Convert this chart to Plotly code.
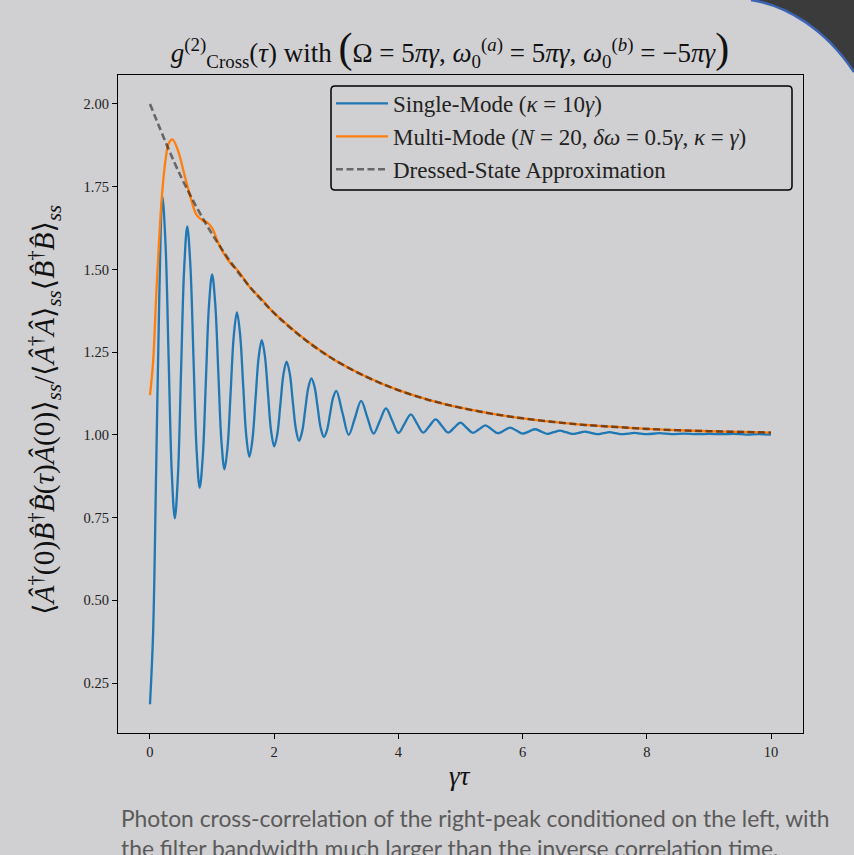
import plotly.graph_objects as go

# ---------------- data ----------------
single_x = [0.00, 0.05, 0.10, 0.15, 0.20, 0.25, 0.30, 0.35, 0.40, 0.45, 0.50, 0.55, 0.60,
            0.65, 0.70, 0.75, 0.80, 0.85, 0.90, 0.95, 1.00, 1.05, 1.10, 1.15, 1.20,
            1.25, 1.30, 1.35, 1.40, 1.45, 1.50, 1.55, 1.60, 1.65, 1.70, 1.75, 1.80,
            1.85, 1.90, 1.95, 2.00, 2.05, 2.10, 2.15, 2.20, 2.25, 2.30, 2.35, 2.40,
            2.45, 2.50, 2.55, 2.60, 2.65, 2.70, 2.75, 2.80, 2.85, 2.90, 2.95, 3.00,
            3.1, 3.2, 3.3, 3.4, 3.5, 3.6, 3.7, 3.8, 3.9, 4.0, 4.1, 4.2, 4.3, 4.4,
            4.5, 4.6, 4.7, 4.8, 4.9, 5.0, 5.1, 5.2, 5.3, 5.4, 5.5, 5.6, 5.7, 5.8,
            5.9, 6.0, 6.1, 6.2, 6.3, 6.4, 6.5, 6.6, 6.7, 6.8, 6.9, 7.0, 7.1, 7.2,
            7.3, 7.4, 7.5, 7.6, 7.7, 7.8, 7.9, 8.0, 8.2, 8.4, 8.6, 8.8, 9.0, 9.2,
            9.4, 9.6, 9.8, 10.0]
single_y = [0.186, 0.40, 0.90, 1.42, 1.72, 1.578, 1.234, 0.89, 0.748, 0.877, 1.189, 1.501, 1.63,
            1.514, 1.235, 0.956, 0.84, 0.934, 1.163, 1.391, 1.485, 1.398, 1.19, 0.982, 0.896,
            0.965, 1.133, 1.301, 1.37, 1.306, 1.152, 0.998, 0.934, 0.986, 1.11, 1.234, 1.286,
            1.239, 1.126, 1.012, 0.965, 1.002, 1.093, 1.184, 1.221, 1.186, 1.10, 1.017, 0.982,
            1.01, 1.077, 1.143, 1.171, 1.145, 1.083, 1.02, 0.994, 1.014, 1.064, 1.113, 1.133,
            1.066, 1.000, 1.051, 1.103, 1.053, 1.004, 1.042, 1.080, 1.043, 1.006, 1.034, 1.062, 1.034, 1.007,
            1.027, 1.047, 1.027, 1.007, 1.022, 1.037, 1.021, 1.006, 1.017, 1.029, 1.017, 1.005, 1.013, 1.022,
            1.013, 1.004, 1.010, 1.017, 1.010, 1.003, 1.008, 1.013, 1.008, 1.003, 1.006, 1.010, 1.006, 1.002,
            1.005, 1.008, 1.005, 1.002, 1.004, 1.006, 1.004, 1.002, 1.005, 1.002, 1.004, 1.002, 1.003, 1.002,
            1.003, 1.001, 1.002, 1.001]

multi_x = [0.00, 0.05, 0.10, 0.15, 0.20, 0.25, 0.30, 0.36, 0.45, 0.55, 0.65, 0.75, 0.85, 0.92,
           1.00, 1.10, 1.20, 1.30, 1.40, 1.50, 1.60, 1.70, 1.80, 1.90, 2.00, 2.20, 2.40,
           2.60, 2.80, 3.00, 3.5, 4.0, 4.5, 5.0, 5.5, 6.0, 6.5, 7.0, 7.5, 8.0, 8.5, 9.0,
           9.5, 10.0]
multi_y = [1.12, 1.22, 1.42, 1.60, 1.74, 1.83, 1.88, 1.893, 1.86, 1.79, 1.72, 1.665, 1.648, 1.642,
           1.625, 1.58, 1.545, 1.518, 1.50, 1.475, 1.448, 1.428, 1.41, 1.388, 1.368, 1.335, 1.303,
           1.274, 1.248, 1.223, 1.174, 1.135, 1.105, 1.082, 1.064, 1.050, 1.039, 1.030, 1.024, 1.018, 1.014, 1.011,
           1.009, 1.007]

dressed_x = [0.0, 0.5, 1.0, 1.5, 2.0, 2.5, 3.0, 3.5, 4.0, 4.5, 5.0, 5.5, 6.0, 6.5, 7.0,
             7.5, 8.0, 8.5, 9.0, 9.5, 10.0]
dressed_y = [2.0, 1.78, 1.607, 1.472, 1.368, 1.287, 1.223, 1.174, 1.135, 1.105, 1.082, 1.064,
             1.050, 1.039, 1.030, 1.024, 1.018, 1.014, 1.011, 1.009, 1.007]

x_ticks = [0, 2, 4, 6, 8, 10]
y_ticks = [0.25, 0.50, 0.75, 1.00, 1.25, 1.50, 1.75, 2.00]

names = ["Single-Mode (<i>κ</i> = 10<i>γ</i>)",
         "Multi-Mode (<i>N</i> = 20, <i>δω</i> = 0.5<i>γ</i>, <i>κ</i> = <i>γ</i>)",
         "Dressed-State Approximation"]

# ---------------- layout geometry ----------------
W, H = 854, 855
L, R, T, B = 118, 51, 75, 122
PW, PH = W - L - R, H - T - B


def px(xp):
    return (xp - L) / PW


def py(yp):
    return (H - B - yp) / PH


BG = "#d0cfd1"
SERIF = "Liberation Serif, DejaVu Serif, serif"

fig = go.Figure()
fig.add_trace(go.Scatter(x=single_x, y=single_y, mode="lines", name=names[0],
                         line=dict(color="#1f77b4", width=2.3, shape="spline", smoothing=1.0)))
fig.add_trace(go.Scatter(x=multi_x, y=multi_y, mode="lines", name=names[1],
                         line=dict(color="#ff7f0e", width=2.3, shape="spline", smoothing=1.0)))
fig.add_trace(go.Scatter(x=dressed_x, y=dressed_y, mode="lines", name=names[2],
                         line=dict(color="rgba(0,0,0,0.5)", width=2.6, dash="7px,3.5px",
                                   shape="spline", smoothing=1.0)))

axis_common = dict(showgrid=False, zeroline=False, showline=True, mirror=True,
                   linecolor="black", linewidth=1.3, ticks="outside", ticklen=5,
                   tickwidth=1.2, tickcolor="black",
                   tickfont=dict(family=SERIF, size=14.5, color="#222"))

fig.update_layout(
    width=W, height=H,
    margin=dict(l=L, r=R, t=T, b=B),
    paper_bgcolor=BG, plot_bgcolor=BG,
    showlegend=True,
    legend=dict(x=px(331), y=py(82), xanchor="left", yanchor="top",
                bgcolor="rgba(0,0,0,0)", borderwidth=0,
                font=dict(family=SERIF, size=23, color="#222"),
                itemwidth=52, tracegroupgap=0),
    xaxis=dict(range=[-0.515, 10.515], tickvals=x_ticks, ticktext=[str(v) for v in x_ticks],
               **axis_common),
    yaxis=dict(range=[0.099, 2.0876], tickvals=y_ticks, ticktext=["%.2f" % v for v in y_ticks],
               **axis_common),
    title=dict(
        text=("<i>g</i><sup>(2)</sup><sub>Cross</sub>(<i>τ</i>) with "
              "<span style='font-size:42px'>(</span>Ω = 5<i>πγ</i>, "
              "<i>ω</i><sub>0</sub><sup>(<i>a</i>)</sup> = 5<i>πγ</i>, "
              "<i>ω</i><sub>0</sub><sup>(<i>b</i>)</sup> = −5<i>πγ</i>"
              "<span style='font-size:42px'>)</span>"),
        x=450 / W, xanchor="center", y=1 - 53 / H, yanchor="middle",
        font=dict(family=SERIF, size=27, color="#111")),
)

# legend frame (rounded, like matplotlib's)
lx0, ly0, lx1, ly1, rr = 331, 86, 792, 190, 4
frame = (f"M {px(lx0 + rr)},{py(ly0)} L {px(lx1 - rr)},{py(ly0)} "
         f"Q {px(lx1)},{py(ly0)} {px(lx1)},{py(ly0 + rr)} "
         f"L {px(lx1)},{py(ly1 - rr)} Q {px(lx1)},{py(ly1)} {px(lx1 - rr)},{py(ly1)} "
         f"L {px(lx0 + rr)},{py(ly1)} Q {px(lx0)},{py(ly1)} {px(lx0)},{py(ly1 - rr)} "
         f"L {px(lx0)},{py(ly0 + rr)} Q {px(lx0)},{py(ly0)} {px(lx0 + rr)},{py(ly0)} Z")
fig.add_shape(type="path", path=frame, xref="paper", yref="paper",
              line=dict(color="black", width=1.5), fillcolor="rgba(0,0,0,0)", layer="above")

# y-axis label
fig.add_annotation(
    text=("⟨<i>Â</i><sup>†</sup>(0)<i>B\u0302</i><sup>†</sup><i>B\u0302</i>(<i>τ</i>)<i>Â</i>(0)⟩"
          "<sub><i>ss</i></sub>/⟨<i>Â</i><sup>†</sup><i>Â</i>⟩<sub><i>ss</i></sub>"
          "⟨<i>B\u0302</i><sup>†</sup><i>B\u0302</i>⟩<sub><i>ss</i></sub>"),
    xref="paper", yref="paper", x=px(44), y=py(410), xanchor="center", yanchor="middle",
    textangle=-90, showarrow=False, font=dict(family=SERIF, size=29.5, color="#111"))

# x-axis label
fig.add_annotation(text="<i>γτ</i>", xref="paper", yref="paper", x=px(460), y=py(776),
                   xanchor="center", yanchor="middle", showarrow=False,
                   font=dict(family=SERIF, size=27, color="#111"))

# caption
fig.add_annotation(
    text=("Photon cross-correlation of the right-peak conditioned on the left, with<br>"
          "the filter bandwidth much larger than the inverse correlation time."),
    xref="paper", yref="paper", x=px(119), y=py(802), xanchor="left", yanchor="top",
    align="left", showarrow=False,
    font=dict(family="Lato, Noto Sans, sans-serif", size=22.8, color="#5a5a5a"))

# dark slide corner (top right)
corner = (f"M {px(751)},{py(0)} C {px(785)},{py(5)} {px(825)},{py(28)} {px(854)},{py(72)} "
          f"L {px(856)},{py(72)} L {px(856)},{py(-2)} L {px(751)},{py(-2)} Z")
fig.add_shape(type="path", path=corner, xref="paper", yref="paper",
              fillcolor="#3b3b3b", line=dict(width=0), layer="above")
edge = (f"M {px(751)},{py(0)} C {px(785)},{py(5)} {px(825)},{py(28)} {px(854)},{py(72)}")
fig.add_shape(type="path", path=edge, xref="paper", yref="paper",
              line=dict(color="#3c64b4", width=2.5), layer="above")

fig.write_html(
    "out.html",
    config={"displayModeBar": False},
    post_script=("document.body.style.margin='0';document.body.style.padding='0';"
                 "document.body.style.overflow='hidden';"
                 "document.body.style.background='" + BG + "';"),
)
